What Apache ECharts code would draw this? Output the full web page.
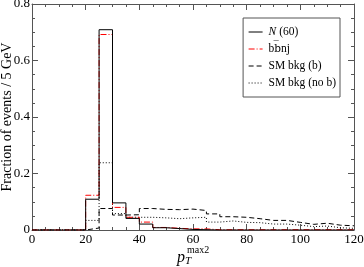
<!DOCTYPE html>
<html><head><meta charset="utf-8">
<script src="https://cdn.jsdelivr.net/npm/echarts@6/dist/echarts.min.js"></script>
<style>html,body{margin:0;padding:0;background:#fff}#c{width:364px;height:267px}</style>
</head><body><div id="c"></div>
<script>
// Bin lower edges (GeV), bin width 5
const binStarts = [0,5,10,15,20,25,30,35,40,45,50,55,60,65,70,75,80,85,90,95,100,105,110,115];
const binEnd = 120;
const nameN = 'N (60)';
const nameBB = 'bb\u0305nj';
const nameSMb = 'SM bkg (b)';
const nameSMnob = 'SM bkg (no b)';
const valsN     = [0,0,0,0,0.109,0.709,0.096,0.041,0.021,0.008,0.005,0.002,0.001,0,0,0,0,0,0,0,0,0,0,0];
const valsBB    = [0,0,0,0,0.123,0.692,0.080,0.045,0.028,0.009,0.006,0.004,0.004,0.001,0.001,0.001,0.001,0.001,0.001,0.001,0.001,0.001,0.001,0.001];
const valsSMb   = [0,0,0,0,0.007,0.076,0.053,0.054,0.076,0.073,0.072,0.074,0.069,0.057,0.047,0.045,0.040,0.034,0.034,0.027,0.020,0.024,0.017,0.015];
const valsSMnob = [0,0,0,0,0.034,0.238,0.058,0.045,0.045,0.043,0.040,0.043,0.045,0.028,0.032,0.027,0.026,0.021,0.021,0.017,0.012,0.014,0.008,0.006];

const dashN = 'solid', dashBB = [6,2,1,2], dashSMb = [5,3], dashSMnob = [1,2];

function hist(vals){
  const d = binStarts.map((x,i)=>[x, vals[i]]);
  d.push([binEnd, vals[vals.length-1]]);
  return d;
}
const serif = '"Liberation Serif","DejaVu Serif",serif';
const axCol = '#555';
function xAx(pos, show){
  return {type:'value', position:pos, min:0, max:120, interval:20,
    axisLine:{show:true, onZero:false, lineStyle:{color:axCol,width:1}},
    axisTick:{show:true, inside:true, length:6, lineStyle:{color:axCol}},
    minorTick:{show:true, splitNumber:4, length:3, lineStyle:{color:axCol}},
    splitLine:{show:false},
    axisLabel:{show:show, color:'#000', fontFamily:serif, fontSize:13, margin:3}};
}
function yAx(pos, show){
  const a = {type:'value', position:pos, min:0, max:0.8, interval:0.2,
    axisLine:{show:true, onZero:false, lineStyle:{color:axCol,width:1}},
    axisTick:{show:true, inside:true, length:6, lineStyle:{color:axCol}},
    minorTick:{show:true, splitNumber:4, length:3, lineStyle:{color:axCol}},
    splitLine:{show:false},
    axisLabel:{show:show, color:'#000', fontFamily:serif, fontSize:13, margin:2,
      formatter:v=> v===0 ? '0' : String(v)}};
  if (show) {
    a.name = 'Fraction of events / 5 GeV';
    a.nameLocation = 'middle';
    a.nameGap = 18;
    a.nameMoveOverlap = false;
    a.nameTextStyle = {fontFamily:serif, fontSize:14, color:'#000'};
  }
  return a;
}
function ser(name, vals, color, type, z){
  return {name:name, type:'line', step:'end', data:hist(vals), symbol:'none', z:z,
    xAxisIndex:0, yAxisIndex:0, animation:false,
    lineStyle:{color:color, width:1, type:type}, itemStyle:{color:color}};
}
const noSym = {color:'rgba(0,0,0,0)', borderWidth:0, opacity:0};
const fs = 11.5;
const chart = echarts.init(document.getElementById('c'), null, {renderer:'canvas'});
chart.setOption({
  animation:false,
  grid:{left:32, right:10, top:4, bottom:37, outerBoundsMode:'none', containLabel:false},
  xAxis:[xAx('bottom', true), xAx('top', false)],
  yAxis:[yAx('left', true), yAx('right', false)],
  legend:{
    orient:'vertical', right:24, top:18, itemGap:5,
    backgroundColor:'#fff', borderColor:'#555', borderWidth:1, padding:[8,4,8,5],
    itemWidth:14, itemHeight:12,
    itemStyle:noSym,
    textStyle:{fontFamily:serif, fontSize:fs, color:'#000', padding:[0,0,0,1],
      rich:{i:{fontFamily:serif, fontSize:fs, fontStyle:'italic', color:'#000'},
            r:{fontFamily:serif, fontSize:fs, color:'#000'},
            d:{fontFamily:'"DejaVu Serif",serif', fontSize:fs-1, color:'#000'}}},
    formatter:n=> n===nameN ? '{i|N}{r| (60)}' : (n===nameBB ? '{r|b}{d|b\u0305}{r|nj}' : n),
    data:[
      {name:nameN, itemStyle:noSym, lineStyle:{color:'#000', width:1, type:dashN}},
      {name:nameBB, itemStyle:noSym, lineStyle:{color:'#ff0000', width:1, type:dashBB}},
      {name:nameSMb, itemStyle:noSym, lineStyle:{color:'#000', width:1, type:dashSMb}},
      {name:nameSMnob, itemStyle:noSym, lineStyle:{color:'#000', width:1, type:dashSMnob}}
    ]
  },
  series:[
    ser(nameSMnob, valsSMnob, '#000', dashSMnob, 2),
    ser(nameSMb, valsSMb, '#000', dashSMb, 3),
    ser(nameBB, valsBB, '#ff0000', dashBB, 4),
    ser(nameN, valsN, '#000', dashN, 5)
  ],
  graphic:[
    {type:'text', left:187, top:245, silent:true, style:{text:'max2', font:'10px '+serif, fill:'#000'}},
    {type:'text', left:177, top:250, silent:true, style:{rich:{p:{font:'italic 16px '+serif, fill:'#000'}, t:{font:'italic 11px '+serif, fill:'#000', padding:[7,0,0,0]}}, text:'{p|p}{t|T}'}}
  ]
});
</script></body></html>
